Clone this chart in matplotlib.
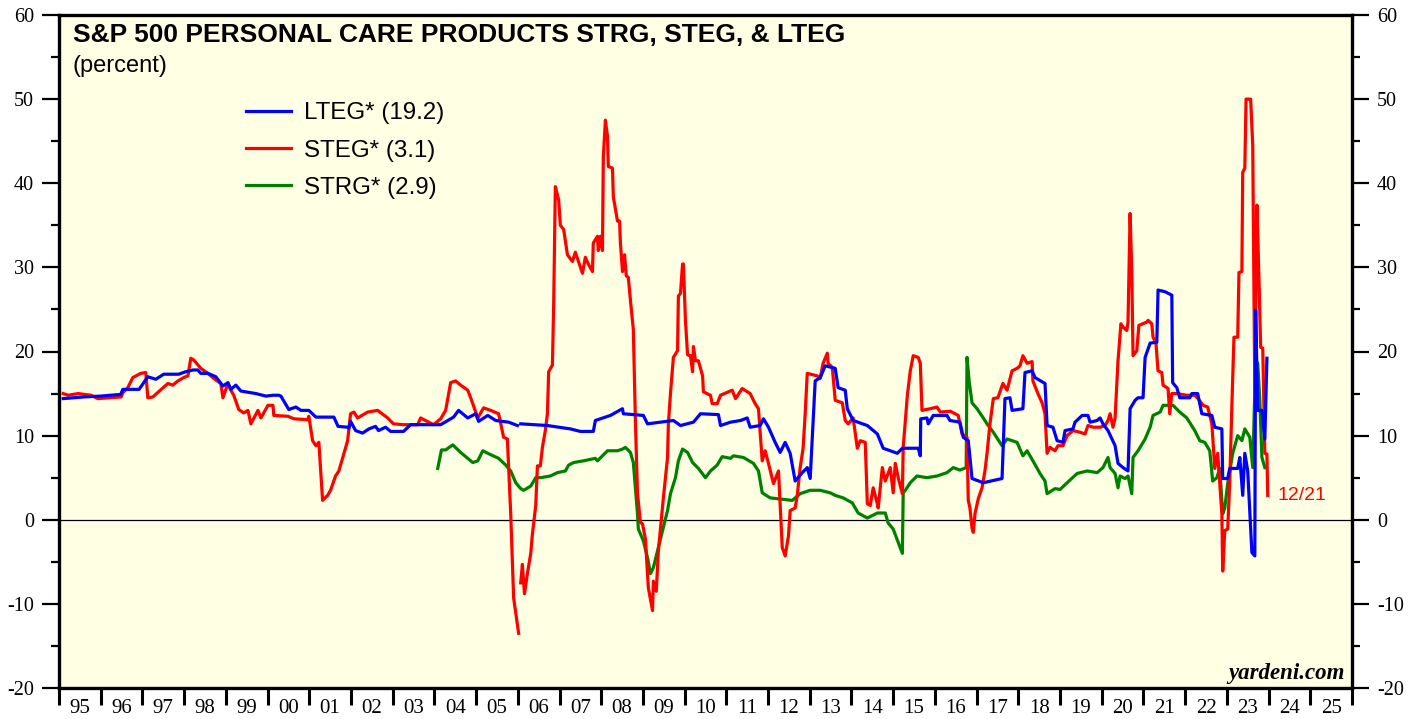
import numpy as np
import matplotlib
matplotlib.use("Agg")
from matplotlib import pyplot as plt
from matplotlib.ticker import MultipleLocator, FixedLocator, NullFormatter

plt.rcParams["axes.unicode_minus"] = False

# --- data (decimal years, percent) ---
lteg_years = [1995.10, 1995.60, 1996.00, 1996.48, 1996.53, 1996.92, 1997.13, 1997.32, 1997.51, 1997.87,
              1998.04, 1998.21, 1998.33, 1998.40, 1998.57, 1998.76, 1998.93, 1999.05, 1999.12, 1999.24,
              1999.36, 1999.72, 1999.96, 2000.13, 2000.27, 2000.32, 2000.51, 2000.68, 2000.80, 2000.99,
              2001.16, 2001.59, 2001.69, 2001.92, 2001.95, 2001.99, 2002.11, 2002.28, 2002.43, 2002.59,
              2002.66, 2002.83, 2002.95, 2003.26, 2003.43, 2004.15, 2004.46, 2004.58, 2004.80, 2004.99,
              2005.06, 2005.28, 2005.47, 2005.78, 2005.99, 2006.03, 2006.07, 2006.71, 2007.26, 2007.50,
              2007.81, 2007.86, 2008.22, 2008.51, 2008.53, 2009.01, 2009.11, 2009.73, 2009.90, 2010.21,
              2010.38, 2010.81, 2010.86, 2011.10, 2011.34, 2011.50, 2011.57, 2011.81, 2011.89, 2012.01,
              2012.17, 2012.29, 2012.41, 2012.53, 2012.65, 2012.82, 2012.94, 2013.01, 2013.13, 2013.25,
              2013.37, 2013.61, 2013.68, 2013.85, 2013.90, 2014.04, 2014.38, 2014.62, 2014.76, 2015.10,
              2015.22, 2015.60, 2015.65, 2015.66, 2015.81, 2015.84, 2015.96, 2016.29, 2016.36, 2016.60,
              2016.68, 2016.80, 2016.89, 2017.16, 2017.61, 2017.68, 2017.80, 2017.85, 2018.11, 2018.16,
              2018.33, 2018.40, 2018.64, 2018.69, 2018.83, 2018.93, 2019.07, 2019.12, 2019.31, 2019.36,
              2019.53, 2019.67, 2019.72, 2019.89, 2019.96, 2020.03, 2020.15, 2020.32, 2020.39, 2020.51,
              2020.63, 2020.68, 2020.80, 2020.87, 2020.99, 2021.04, 2021.16, 2021.32, 2021.35, 2021.52,
              2021.68, 2021.70, 2021.80, 2021.87, 2022.11, 2022.16, 2022.30, 2022.40, 2022.64, 2022.71,
              2022.88, 2022.90, 2023.02, 2023.07, 2023.26, 2023.31, 2023.38, 2023.43, 2023.50, 2023.60,
              2023.67, 2023.69, 2023.74, 2023.84, 2023.91, 2023.96]
lteg_values = [14.4, 14.6, 14.7, 14.9, 15.5, 15.5, 17.0, 16.7, 17.3, 17.3,
               17.6, 17.8, 17.8, 17.4, 17.4, 17.0, 15.9, 16.3, 15.5, 16.0,
               15.3, 15.0, 14.7, 14.8, 14.8, 14.7, 13.1, 13.4, 13.0, 13.0,
               12.2, 12.2, 11.1, 11.0, 10.9, 11.7, 10.6, 10.3, 10.8, 11.1,
               10.6, 11.0, 10.5, 10.5, 11.3, 11.3, 12.2, 13.0, 12.1, 12.6,
               11.7, 12.4, 11.8, 11.6, 11.2, np.nan, 11.4, 11.2, 10.8, 10.5,
               10.5, 11.8, 12.4, 13.2, 12.6, 12.4, 11.4, 11.8, 11.2, 11.6,
               12.6, 12.5, 11.2, 11.6, 11.8, 12.1, 11.0, 11.2, 12.0, 11.0,
               9.2, 8.0, 9.2, 7.9, 4.6, 5.6, 6.2, 4.9, 16.5, 16.9,
               18.3, 18.0, 15.7, 15.4, 13.2, 11.8, 11.2, 10.2, 8.5, 7.9,
               8.5, 8.5, 7.6, 12.0, 12.1, 11.4, 12.4, 12.4, 11.8, 11.6,
               9.8, 9.4, 4.9, 4.4, 4.9, 14.4, 14.5, 13.0, 13.2, 17.5,
               17.7, 16.9, 16.2, 11.2, 11.0, 9.4, 9.2, 10.6, 10.8, 11.6,
               12.4, 12.4, 11.6, 11.8, 12.1, 11.4, 10.6, 8.8, 6.7, 6.2,
               5.8, 13.2, 14.2, 14.5, 14.5, 19.3, 21.0, 21.1, 27.3, 27.1,
               26.7, 16.3, 15.7, 14.5, 14.5, 15.0, 15.0, 12.6, 12.4, 11.0,
               10.8, 4.9, 4.9, 6.1, 6.1, 7.4, 2.9, 7.9, 5.8, -3.9,
               -4.3, 24.9, 13.0, 13.0, 9.6, 19.2]

steg_years = [1995.10, 1995.22, 1995.46, 1995.77, 1995.93, 1996.49, 1996.53, 1996.65, 1996.77, 1996.96,
              1997.08, 1997.13, 1997.25, 1997.61, 1997.73, 1997.85, 1997.99, 1998.09, 1998.16, 1998.23,
              1998.40, 1998.57, 1998.71, 1998.88, 1998.93, 1999.05, 1999.12, 1999.19, 1999.31, 1999.43,
              1999.53, 1999.60, 1999.77, 1999.84, 2000.01, 2000.13, 2000.15, 2000.49, 2000.63, 2000.96,
              2000.99, 2001.08, 2001.16, 2001.23, 2001.32, 2001.44, 2001.51, 2001.63, 2001.71, 2001.92,
              2001.99, 2002.07, 2002.16, 2002.40, 2002.64, 2002.88, 2003.02, 2003.26, 2003.60, 2003.67,
              2003.98, 2004.15, 2004.27, 2004.39, 2004.51, 2004.63, 2004.80, 2004.87, 2005.04, 2005.18,
              2005.35, 2005.54, 2005.66, 2005.75, 2005.83, 2005.90, 2006.02, 2006.05, 2006.07, 2006.11,
              2006.16, 2006.23, 2006.31, 2006.35, 2006.43, 2006.47, 2006.54, 2006.59, 2006.66, 2006.71,
              2006.74, 2006.83, 2006.86, 2006.90, 2006.98, 2007.02, 2007.10, 2007.19, 2007.31, 2007.38,
              2007.55, 2007.62, 2007.69, 2007.79, 2007.81, 2007.91, 2007.93, 2007.98, 2008.03, 2008.05,
              2008.10, 2008.15, 2008.17, 2008.27, 2008.29, 2008.39, 2008.44, 2008.46, 2008.51, 2008.56,
              2008.60, 2008.65, 2008.70, 2008.77, 2008.82, 2008.87, 2008.94, 2008.99, 2009.06, 2009.13,
              2009.23, 2009.25, 2009.32, 2009.37, 2009.44, 2009.49, 2009.59, 2009.61, 2009.66, 2009.73,
              2009.83, 2009.85, 2009.90, 2009.95, 2009.97, 2010.02, 2010.07, 2010.14, 2010.19, 2010.21,
              2010.26, 2010.33, 2010.43, 2010.45, 2010.62, 2010.66, 2010.78, 2010.86, 2011.14, 2011.22,
              2011.38, 2011.57, 2011.69, 2011.77, 2011.86, 2011.93, 2012.01, 2012.13, 2012.25, 2012.34,
              2012.41, 2012.49, 2012.53, 2012.65, 2012.70, 2012.77, 2012.84, 2012.89, 2012.94, 2013.18,
              2013.25, 2013.32, 2013.42, 2013.44, 2013.54, 2013.61, 2013.78, 2013.85, 2013.92, 2014.04,
              2014.14, 2014.21, 2014.33, 2014.38, 2014.45, 2014.52, 2014.62, 2014.64, 2014.74, 2014.81,
              2014.93, 2015.00, 2015.05, 2015.12, 2015.22, 2015.24, 2015.34, 2015.41, 2015.48, 2015.60,
              2015.65, 2015.69, 2015.89, 2016.05, 2016.13, 2016.37, 2016.56, 2016.65, 2016.77, 2016.80,
              2016.84, 2016.89, 2016.92, 2016.96, 2017.04, 2017.13, 2017.20, 2017.25, 2017.32, 2017.40,
              2017.51, 2017.63, 2017.73, 2017.85, 2017.97, 2018.04, 2018.11, 2018.21, 2018.33, 2018.35,
              2018.47, 2018.57, 2018.64, 2018.69, 2018.76, 2018.88, 2018.95, 2019.07, 2019.17, 2019.31,
              2019.48, 2019.60, 2019.67, 2019.79, 2019.96, 2020.08, 2020.15, 2020.20, 2020.27, 2020.32,
              2020.39, 2020.46, 2020.51, 2020.60, 2020.63, 2020.68, 2020.72, 2020.75, 2020.84, 2020.89,
              2021.08, 2021.11, 2021.20, 2021.23, 2021.30, 2021.35, 2021.44, 2021.47, 2021.59, 2021.63,
              2021.68, 2021.80, 2022.04, 2022.23, 2022.31, 2022.43, 2022.54, 2022.64, 2022.71, 2022.78,
              2022.88, 2022.90, 2022.95, 2023.02, 2023.07, 2023.12, 2023.17, 2023.26, 2023.29, 2023.36,
              2023.38, 2023.43, 2023.46, 2023.57, 2023.62, 2023.67, 2023.72, 2023.77, 2023.81, 2023.86,
              2023.91, 2023.96, 2023.98]
steg_values = [15.0, 14.8, 15.0, 14.8, 14.4, 14.6, 15.1, 15.7, 16.9, 17.4,
               17.5, 14.5, 14.6, 16.2, 16.0, 16.5, 16.9, 17.1, 19.2, 19.0,
               18.0, 17.4, 16.8, 16.2, 14.5, 16.2, 15.4, 14.8, 13.1, 12.7,
               13.0, 11.4, 13.0, 12.1, 13.6, 13.6, 12.4, 12.3, 12.0, 11.9,
               12.3, 9.4, 8.8, 9.2, 2.3, 2.9, 3.5, 5.2, 5.8, 9.4,
               12.6, 12.8, 12.1, 12.8, 13.0, 12.1, 11.4, 11.3, 11.3, 12.1,
               11.3, 12.0, 13.0, 16.3, 16.5, 16.0, 15.4, 14.5, 12.1, 13.3,
               13.0, 12.6, 9.8, 9.6, 0.7, -9.3, -13.5, np.nan, -7.5, -5.3,
               -8.8, -6.4, -4.0, -1.7, 1.7, 6.4, 6.4, 8.6, 10.6, 12.6,
               17.6, 18.4, 25.6, 39.6, 38.0, 35.0, 34.5, 31.5, 30.7, 31.8,
               29.3, 31.2, 30.4, 29.5, 32.9, 33.7, 32.0, 33.7, 32.0, 43.1,
               47.5, 45.6, 42.0, 41.8, 38.4, 35.5, 35.5, 32.9, 29.5, 31.5,
               29.0, 28.8, 26.1, 22.6, 11.6, 3.1, -0.3, -0.5, -2.3, -8.1,
               -10.8, -7.3, -8.5, -3.7, -0.1, 2.6, 7.4, 11.4, 15.0, 19.3,
               20.1, 26.6, 26.9, 30.4, 30.4, 23.6, 19.6, 19.5, 17.6, 20.6,
               18.9, 18.9, 17.1, 15.2, 14.8, 13.8, 13.8, 14.8, 15.4, 14.4,
               15.6, 15.0, 13.8, 13.2, 7.0, 8.2, 6.7, 4.3, 5.8, -3.3,
               -4.3, -1.9, 1.1, 1.4, 2.9, 6.2, 8.5, 12.6, 17.4, 17.1,
               16.8, 18.6, 19.8, 18.6, 18.1, 14.2, 13.9, 11.8, 11.4, 12.1,
               8.5, 9.4, 9.2, 1.9, 1.7, 3.8, 1.9, 1.4, 6.2, 4.6,
               6.2, 3.2, 6.7, 5.0, 3.1, 8.6, 14.8, 17.7, 19.5, 19.3,
               18.6, 13.0, 13.2, 13.4, 12.8, 12.9, 12.4, 10.2, 9.8, 2.3,
               1.4, -1.0, -1.5, 0.7, 2.5, 3.8, 5.8, 7.9, 11.4, 14.4,
               14.5, 16.2, 15.4, 17.7, 18.0, 18.3, 19.5, 18.6, 18.8, 16.5,
               15.0, 13.9, 12.6, 7.9, 8.6, 8.2, 8.8, 8.8, 10.0, 10.6,
               10.4, 10.2, 11.2, 11.0, 11.0, 11.2, 11.8, 12.6, 11.0, 12.1,
               18.9, 23.3, 22.9, 22.5, 23.5, 36.4, 29.6, 19.5, 20.1, 23.1,
               23.5, 23.7, 23.3, 21.7, 21.0, 17.7, 17.5, 16.0, 15.6, 12.6,
               15.0, 15.0, 14.8, 14.8, 14.4, 13.6, 13.4, 11.4, 6.1, 7.9,
               0.7, -6.1, -1.3, -1.1, 4.6, 13.6, 21.7, 21.7, 29.4, 29.5,
               41.3, 41.8, 50.0, 50.0, 44.5, 15.0, 37.4, 28.5, 20.5, 20.4,
               7.9, 7.8, 2.9]

strg_years = [2004.08, 2004.17, 2004.27, 2004.44, 2004.63, 2004.92, 2005.04, 2005.16, 2005.28, 2005.54,
              2005.71, 2005.83, 2005.95, 2006.07, 2006.14, 2006.31, 2006.43, 2006.54, 2006.78, 2006.95,
              2007.14, 2007.22, 2007.34, 2007.57, 2007.86, 2007.91, 2008.15, 2008.39, 2008.51, 2008.58,
              2008.70, 2008.77, 2008.87, 2008.89, 2009.01, 2009.11, 2009.18, 2009.25, 2009.35, 2009.47,
              2009.59, 2009.66, 2009.78, 2009.85, 2009.95, 2010.07, 2010.19, 2010.33, 2010.50, 2010.62,
              2010.78, 2010.90, 2011.10, 2011.17, 2011.41, 2011.65, 2011.77, 2011.86, 2012.05, 2012.58,
              2012.77, 2013.01, 2013.25, 2013.49, 2013.61, 2013.80, 2014.02, 2014.16, 2014.38, 2014.62,
              2014.81, 2014.88, 2015.00, 2015.12, 2015.22, 2015.24, 2015.29, 2015.41, 2015.57, 2015.81,
              2016.05, 2016.29, 2016.44, 2016.60, 2016.75, 2016.77, 2016.82, 2016.89, 2017.01, 2017.16,
              2017.25, 2017.40, 2017.61, 2017.73, 2017.97, 2018.11, 2018.21, 2018.35, 2018.52, 2018.64,
              2018.69, 2018.88, 2019.00, 2019.17, 2019.41, 2019.65, 2019.89, 2020.03, 2020.15, 2020.20,
              2020.32, 2020.39, 2020.44, 2020.56, 2020.63, 2020.72, 2020.75, 2020.87, 2021.04, 2021.16,
              2021.23, 2021.40, 2021.47, 2021.71, 2021.87, 2022.04, 2022.23, 2022.35, 2022.47, 2022.59,
              2022.66, 2022.76, 2022.83, 2022.90, 2022.95, 2023.02, 2023.14, 2023.26, 2023.36, 2023.43,
              2023.55, 2023.62, 2023.69, 2023.74, 2023.79, 2023.84, 2023.91]
strg_values = [6.1, 8.3, 8.3, 8.9, 8.0, 6.8, 7.0, 8.2, 7.9, 7.3,
               6.5, 5.8, 4.4, 3.7, 3.5, 4.0, 5.0, 5.0, 5.2, 5.6,
               5.8, 6.5, 6.8, 7.0, 7.3, 7.0, 8.2, 8.2, 8.4, 8.6,
               8.0, 6.8, 0.7, -1.1, -2.5, -4.5, -6.4, -5.7, -3.7, -1.3,
               1.1, 3.1, 5.0, 7.0, 8.4, 8.0, 6.8, 6.1, 5.0, 5.8,
               6.5, 7.5, 7.3, 7.6, 7.4, 6.7, 5.8, 3.2, 2.6, 2.3,
               3.1, 3.5, 3.5, 3.2, 2.9, 2.6, 2.0, 0.8, 0.2, 0.8,
               0.8, -0.4, -1.1, -2.7, -4.0, 3.2, 3.5, 4.4, 5.2, 5.0,
               5.2, 5.6, 6.2, 5.9, 6.2, 19.3, 16.5, 13.9, 13.2, 12.1,
               11.4, 10.4, 8.8, 9.6, 9.2, 7.6, 8.2, 7.0, 5.5, 4.6,
               3.1, 3.7, 3.6, 4.4, 5.5, 5.8, 5.6, 6.2, 7.4, 6.2,
               5.5, 3.8, 5.2, 4.9, 5.2, 3.1, 7.4, 8.2, 9.6, 11.0,
               12.4, 12.8, 13.6, 13.6, 12.8, 12.1, 10.6, 9.4, 9.2, 8.2,
               4.6, 5.0, 6.1, 0.7, 1.4, 4.3, 7.9, 10.0, 9.4, 10.8,
               9.8, 6.2, 19.0, 18.6, 14.2, 7.4, 6.2]

year_labels = ["95", "96", "97", "98", "99", "00", "01", "02", "03", "04", "05", "06", "07", "08", "09", "10",
               "11", "12", "13", "14", "15", "16", "17", "18", "19", "20", "21", "22", "23", "24", "25"]

# --- figure ---
fig = plt.figure(figsize=(14.19, 7.19), dpi=100)
ax = fig.add_axes([59 / 1419, 1 - 688 / 719, (1352 - 59) / 1419, (688 - 15) / 719])
ax.set_facecolor("#FFFFE3")

ax.axhline(0, color="black", lw=0.9, zorder=1)

ax.plot(lteg_years, lteg_values, color="#0000FF", lw=2.3, label="LTEG* (19.2)", zorder=4)
ax.plot(steg_years, steg_values, color="#FF0000", lw=2.3, label="STEG* (3.1)", zorder=3)
ax.plot(strg_years, strg_values, color="#008000", lw=2.3, label="STRG* (2.9)", zorder=2)

ax.set_xlim(1995, 2026)
ax.set_ylim(-20, 60)

# x axis: year boundaries as ticks, labels centred in each year
ax.xaxis.set_major_locator(FixedLocator(np.arange(1995, 2027)))
ax.xaxis.set_major_formatter(NullFormatter())
ax.xaxis.set_minor_locator(FixedLocator(np.arange(1995, 2026) + 0.5))
ax.set_xticklabels(year_labels, minor=True)
ax.tick_params(axis="x", which="major", bottom=True, direction="out", length=12, width=2.2)
ax.tick_params(axis="x", which="minor", length=0, pad=8, labelsize=15)

ax.yaxis.set_major_locator(MultipleLocator(10))
ax.yaxis.set_minor_locator(MultipleLocator(5))
ax.tick_params(axis="y", which="major", direction="out", length=12, width=1.6,
               left=True, right=True, labelleft=True, labelright=True, labelsize=14.5, pad=6)
ax.tick_params(axis="y", which="minor", direction="out", length=6, width=1.6, left=True, right=True)

for lbl in ax.get_xticklabels(minor=True) + ax.get_yticklabels():
    lbl.set_family("Liberation Serif")

for side in ["left", "right", "top", "bottom"]:
    ax.spines[side].set_linewidth(2.4)

ax.text(14 / 1293, 0.988, "S&P 500 PERSONAL CARE PRODUCTS STRG, STEG, & LTEG",
        transform=ax.transAxes, family="Liberation Sans", fontsize=19, fontweight="bold",
        va="top", ha="left")
ax.text(14 / 1293, 0.941, "(percent)", transform=ax.transAxes, family="Liberation Sans",
        fontsize=17, va="top", ha="left")

leg = ax.legend(loc="upper left", bbox_to_anchor=(0.135, 0.888), frameon=False,
                prop={"family": "Liberation Sans", "size": 17.4}, handlelength=1.86,
                handletextpad=0.54, labelspacing=0.63, borderpad=0)

ax.annotate("12/21", xy=(steg_years[-1], steg_values[-1]), xytext=(7, 0),
            textcoords="offset points", color="#FF0000", fontsize=14,
            family="Liberation Sans", va="center", ha="left")

ax.text(0.994, 0.006, "yardeni.com", transform=ax.transAxes, family="Liberation Serif",
        fontsize=16.5, fontweight="bold", style="italic", ha="right", va="bottom")

fig.savefig("out.png", dpi=100, facecolor="white")
